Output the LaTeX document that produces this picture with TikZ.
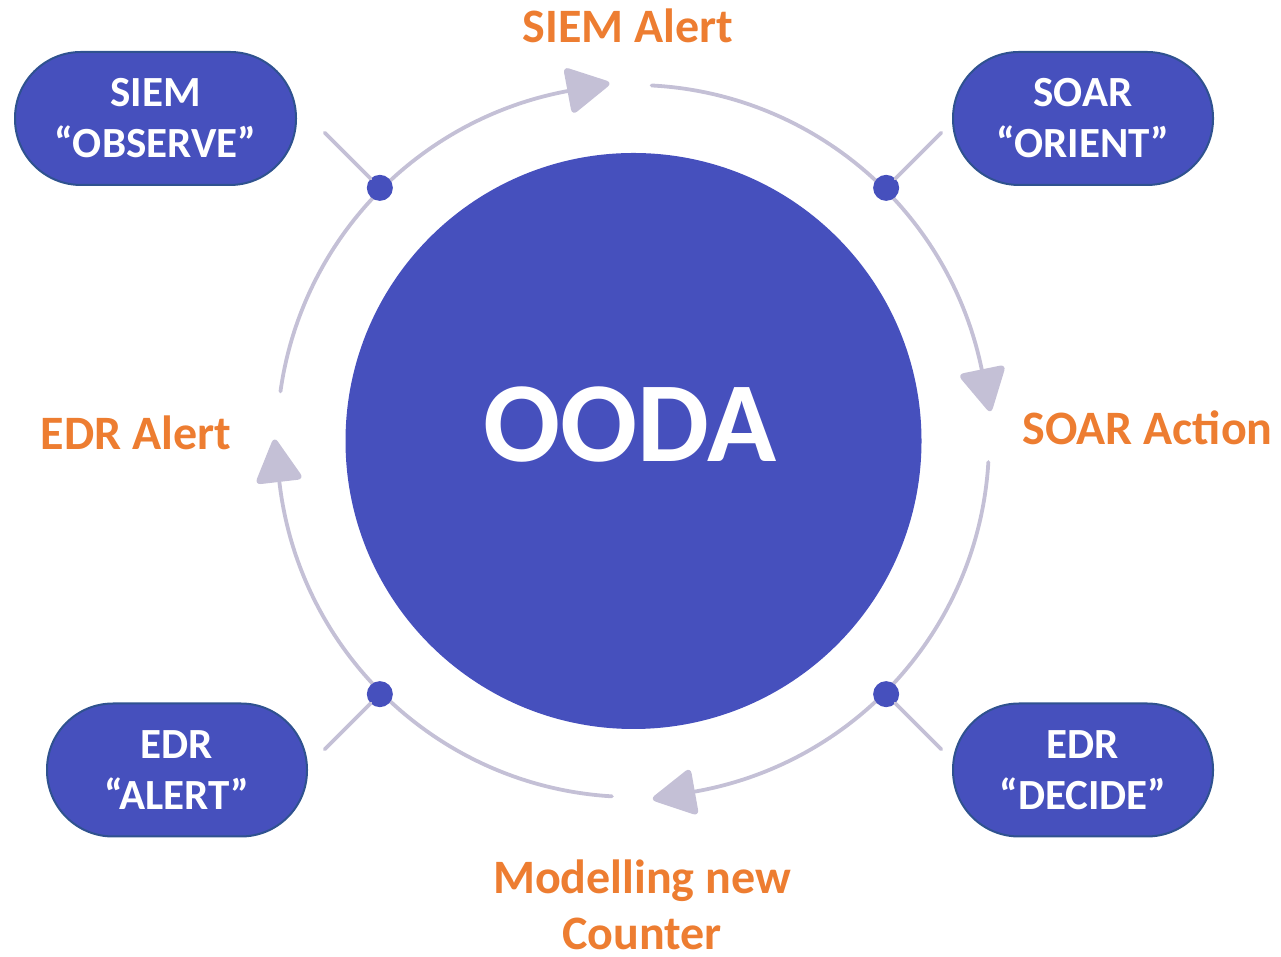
\documentclass[tikz,border=0pt]{standalone}
\usepackage{fontspec}
\setmainfont{Carlito}
\usetikzlibrary{calc}
\definecolor{pillblue}{HTML}{4650BD}
\definecolor{pillrim}{HTML}{2F528F}
\definecolor{ringgray}{HTML}{C4C0D6}
\definecolor{labelorange}{HTML}{ED7D31}

\begin{document}
\begin{tikzpicture}[x=1pt,y=1pt,
  pill/.style={draw=pillrim, line width=2pt, fill=pillblue, rounded corners=66pt,
    minimum height=133pt, inner sep=0pt, align=center, text=white,
    font=\fontsize{43}{51}\selectfont\bfseries},
  phase/.style={text=labelorange, align=center, inner sep=0pt,
    font=\fontsize{48}{56}\selectfont\bfseries},
  ring/.style={draw=ringgray, line width=3.8pt, line cap=round},
  hub/.style={circle, fill=pillblue, minimum size=26pt, inner sep=0pt},
]
\useasboundingbox (0,0) rectangle (1281,957);
\coordinate (c) at (633,516);

% cycle ring: four arcs, each ending in a rounded triangular head
\foreach \s/\e in {87/11.6, -3.4/-80, -93.4/-173.4, 172/100.6} {
  \draw[ring] (c) ++(\s:356) arc[start angle=\s, end angle=\e, radius=356];
  \path (c) ++(\e:356) coordinate (b) ++({\e-90}:46) coordinate (t);
  \fill[ringgray, rounded corners=6.5pt] ($(b)+(\e:25)$) -- (t) -- ($(b)+(\e:-25)$) -- cycle;
}

% hubs on the ring and their spokes
\foreach \n/\a in {1/135, 2/45, 3/-45, 4/-135} {
  \node[hub] (d\n) at ($(c)+(\a:358)$) {};
  \coordinate (s\n) at ($(c)+(\a:436)$);
  \draw[ring] (d\n) -- (s\n);
}

% central disc
\node[circle, fill=pillblue, minimum size=576pt, inner sep=0pt] (core) at (633.5,516) {};
\node[text=white, inner sep=0pt, font=\fontsize{114}{120}\selectfont\bfseries] (ooda) at (630,532) {OODA};

% tool pills
\node[pill, minimum width=281pt] (siem) at (155.5,838.5) {SIEM\\“OBSERVE”};
\node[pill, minimum width=260pt] (soar) at (1083,838.5) {SOAR\\“ORIENT”};
\node[pill, minimum width=260pt] (edra) at (177,187) {EDR\\“ALERT”};
\node[pill, minimum width=260pt] (edrd) at (1083,187) {EDR\\“DECIDE”};

% phase labels
\node[phase] (l1) at (628,931) {SIEM Alert};
\node[phase] (l2) at (1147.5,529) {SOAR Action};
\node[phase] (l3) at (136,524) {EDR Alert};
\node[phase] (l4) at (642,52) {Modelling new\\Counter};
\end{tikzpicture}
\end{document}
